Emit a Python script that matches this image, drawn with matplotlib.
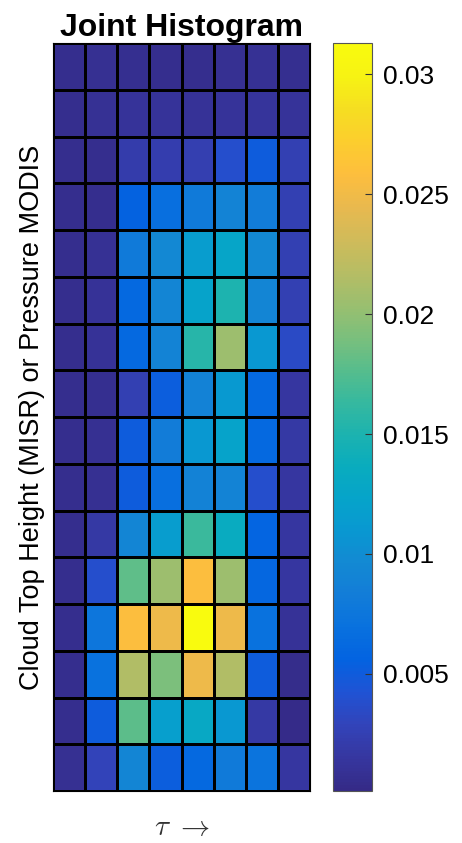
import matplotlib
matplotlib.use("Agg")
import matplotlib.pyplot as plt
import numpy as np
from matplotlib.colors import LinearSegmentedColormap

plt.rcParams["font.family"] = ["Liberation Sans", "DejaVu Sans"]
plt.rcParams["mathtext.fontset"] = "cm"

# joint histogram values, rows from top to bottom, columns left to right
row00 = [0.0006, 0.0008, 0.0007, 0.0005, 0.0006, 0.0008, 0.0009, 0.0007]
row01 = [0.0006, 0.0009, 0.0012, 0.0011, 0.0010, 0.0012, 0.0013, 0.0011]
row02 = [0.0005, 0.0005, 0.0021, 0.0023, 0.0024, 0.0038, 0.0050, 0.0025]
row03 = [0.0005, 0.0005, 0.0055, 0.0068, 0.0080, 0.0090, 0.0082, 0.0025]
row04 = [0.0006, 0.0009, 0.0080, 0.0095, 0.0115, 0.0125, 0.0095, 0.0025]
row05 = [0.0005, 0.0010, 0.0062, 0.0092, 0.0122, 0.0150, 0.0092, 0.0025]
row06 = [0.0005, 0.0010, 0.0062, 0.0090, 0.0155, 0.0205, 0.0110, 0.0035]
row07 = [0.0005, 0.0007, 0.0025, 0.0052, 0.0088, 0.0112, 0.0062, 0.0015]
row08 = [0.0005, 0.0008, 0.0050, 0.0082, 0.0110, 0.0122, 0.0062, 0.0018]
row09 = [0.0005, 0.0008, 0.0050, 0.0068, 0.0088, 0.0090, 0.0038, 0.0015]
row10 = [0.0005, 0.0018, 0.0092, 0.0115, 0.0165, 0.0135, 0.0058, 0.0015]
row11 = [0.0006, 0.0038, 0.0180, 0.0205, 0.0258, 0.0205, 0.0060, 0.0015]
row12 = [0.0005, 0.0075, 0.0257, 0.0248, 0.0313, 0.0248, 0.0070, 0.0010]
row13 = [0.0005, 0.0070, 0.0215, 0.0190, 0.0248, 0.0215, 0.0050, 0.0004]
row14 = [0.0005, 0.0050, 0.0178, 0.0118, 0.0130, 0.0110, 0.0018, 0.0003]
row15 = [0.0008, 0.0028, 0.0092, 0.0052, 0.0062, 0.0080, 0.0072, 0.0015]

cbar_ticks = [0.005, 0.01, 0.015, 0.02, 0.025, 0.03]
cbar_labels = ["0.005", "0.01", "0.015", "0.02", "0.025", "0.03"]

# parula-like colormap
parula_colors = [
    (0.2081, 0.1663, 0.5292), (0.2123, 0.2138, 0.6270), (0.1959, 0.2645, 0.7279),
    (0.1253, 0.3242, 0.8303), (0.0117, 0.3875, 0.8820), (0.0329, 0.4430, 0.8720),
    (0.0723, 0.4887, 0.8467), (0.0749, 0.5375, 0.8263), (0.0343, 0.5966, 0.8199),
    (0.0231, 0.6418, 0.7913), (0.0384, 0.6743, 0.7436), (0.1133, 0.7015, 0.6859),
    (0.2178, 0.7250, 0.6193), (0.3482, 0.7424, 0.5473), (0.4871, 0.7491, 0.4840),
    (0.6099, 0.7473, 0.4337), (0.7184, 0.7411, 0.3905), (0.8185, 0.7327, 0.3498),
    (0.9139, 0.7258, 0.3063), (0.9938, 0.7455, 0.2403), (0.9880, 0.8066, 0.1794),
    (0.9626, 0.8705, 0.1309), (0.9661, 0.9514, 0.0755), (0.9763, 0.9831, 0.0538),
]
parula = LinearSegmentedColormap.from_list("parula", parula_colors)

hist = np.array([row00, row01, row02, row03, row04, row05, row06, row07,
                 row08, row09, row10, row11, row12, row13, row14, row15])

fig = plt.figure(figsize=(4.62, 8.43), dpi=100)
ax = fig.add_axes([53 / 462, 1 - 791 / 843, 257 / 462, 748 / 843])
mesh = ax.pcolormesh(hist[::-1], cmap=parula, vmin=0.00012, vmax=0.0313,
                     edgecolors="k", linewidth=0.8)
ax.set_xticks([])
ax.set_yticks([])
ax.set_title("Joint Histogram", fontsize=23, fontweight="bold", pad=5)
ax.set_ylabel("Cloud Top Height (MISR) or Pressure MODIS", fontsize=19.5, labelpad=6)
ax.set_xlabel(r"$\tau\ \rightarrow$", fontsize=21, labelpad=16, color="#333333")

cax = fig.add_axes([333 / 462, 1 - 791 / 843, 39 / 462, 748 / 843])
cb = fig.colorbar(mesh, cax=cax, ticks=cbar_ticks)
cb.ax.set_yticklabels(cbar_labels)
cb.ax.tick_params(direction="in", length=5, labelsize=19, color="#333333", pad=8)
cb.outline.set_edgecolor("#555555")
cb.outline.set_linewidth(0.8)

fig.savefig("out.png", dpi=100)
